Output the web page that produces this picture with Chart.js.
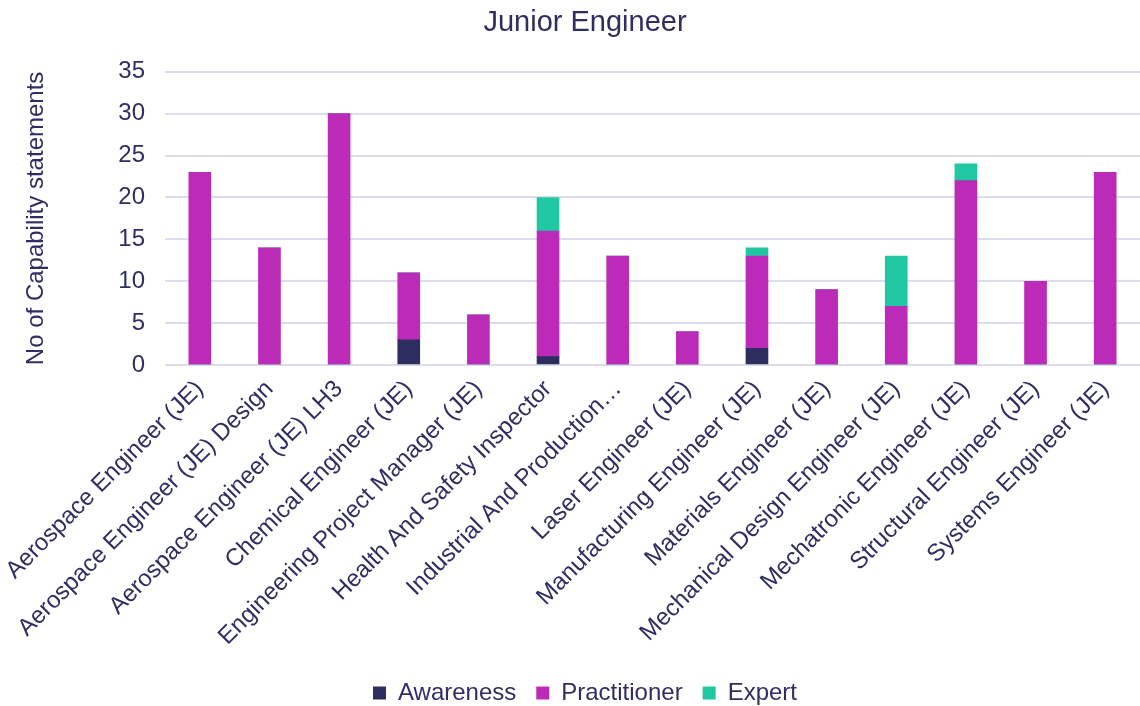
<!DOCTYPE html>
<html>
<head>
<meta charset="utf-8">
<script src="https://cdn.jsdelivr.net/npm/chart.js@4"></script>
<style>
  html, body { margin: 0; padding: 0; background: #fff; }
  #wrap { width: 1140px; height: 706px; }
</style>
</head>
<body>
<div id="wrap"><canvas id="capChart" width="1140" height="706"></canvas></div>
<script>
const categories = [
  'Aerospace Engineer (JE)',
  'Aerospace Engineer (JE) Design',
  'Aerospace Engineer (JE) LH3',
  'Chemical Engineer (JE)',
  'Engineering Project Manager (JE)',
  'Health And Safety Inspector',
  'Industrial And Production\u2026',
  'Laser Engineer (JE)',
  'Manufacturing Engineer (JE)',
  'Materials Engineer (JE)',
  'Mechanical Design Engineer (JE)',
  'Mechatronic Engineer (JE)',
  'Structural Engineer (JE)',
  'Systems Engineer (JE)'
];
const awareness    = [0, 0, 0, 3, 0, 1, 0, 0, 2, 0, 0, 0, 0, 0];
const practitioner = [23, 14, 30, 8, 6, 15, 13, 4, 11, 9, 7, 22, 10, 23];
const expert       = [0, 0, 0, 0, 0, 4, 0, 0, 1, 0, 6, 2, 0, 0];
const yTicks = [0, 5, 10, 15, 20, 25, 30, 35];

const textColor = '#2F2E63';
const fontFamily = '"Liberation Sans", Arial, sans-serif';

new Chart(document.getElementById('capChart'), {
  type: 'bar',
  data: {
    labels: categories,
    datasets: [
      { label: 'Awareness', data: awareness, backgroundColor: '#2E2D5F' },
      { label: 'Practitioner', data: practitioner, backgroundColor: '#BC2BB8' },
      { label: 'Expert', data: expert, backgroundColor: '#1FC8A2' }
    ]
  },
  options: {
    responsive: false,
    animation: false,
    devicePixelRatio: 1,
    layout: { padding: { left: 30, right: 0, top: 0, bottom: -9 } },
    datasets: {
      bar: { barThickness: 22, borderWidth: 0 }
    },
    plugins: {
      title: {
        display: true,
        text: 'Junior Engineer',
        color: textColor,
        font: { family: fontFamily, size: 29, weight: 'normal' },
        padding: { top: 6, bottom: 31 }
      },
      legend: {
        position: 'bottom',
        labels: {
          color: textColor,
          font: { family: fontFamily, size: 24 },
          boxWidth: 13,
          boxHeight: 13,
          padding: 20
        }
      },
      tooltip: { enabled: false }
    },
    scales: {
      x: {
        stacked: true,
        grid: { display: false },
        border: { display: false },
        ticks: {
          color: textColor,
          font: { family: fontFamily, size: 24 },
          minRotation: 45,
          maxRotation: 45,
          autoSkip: false,
          padding: 2
        },
        afterFit: s => { s.height = 296; }
      },
      y: {
        stacked: true,
        min: 0,
        max: 35,
        afterBuildTicks: s => { s.ticks = yTicks.map(v => ({ value: v })); },
        grid: { color: '#DCDCEE', lineWidth: 2, drawTicks: false },
        border: { display: false },
        ticks: {
          color: textColor,
          font: { family: fontFamily, size: 24 },
          padding: 20
        },
        title: {
          display: true,
          text: 'No of Capability statements',
          color: textColor,
          font: { family: fontFamily, size: 24 },
          padding: { top: -8, bottom: 0 }
        },
        afterFit: s => { s.width = 135; }
      }
    }
  }
});
</script>
</body>
</html>
